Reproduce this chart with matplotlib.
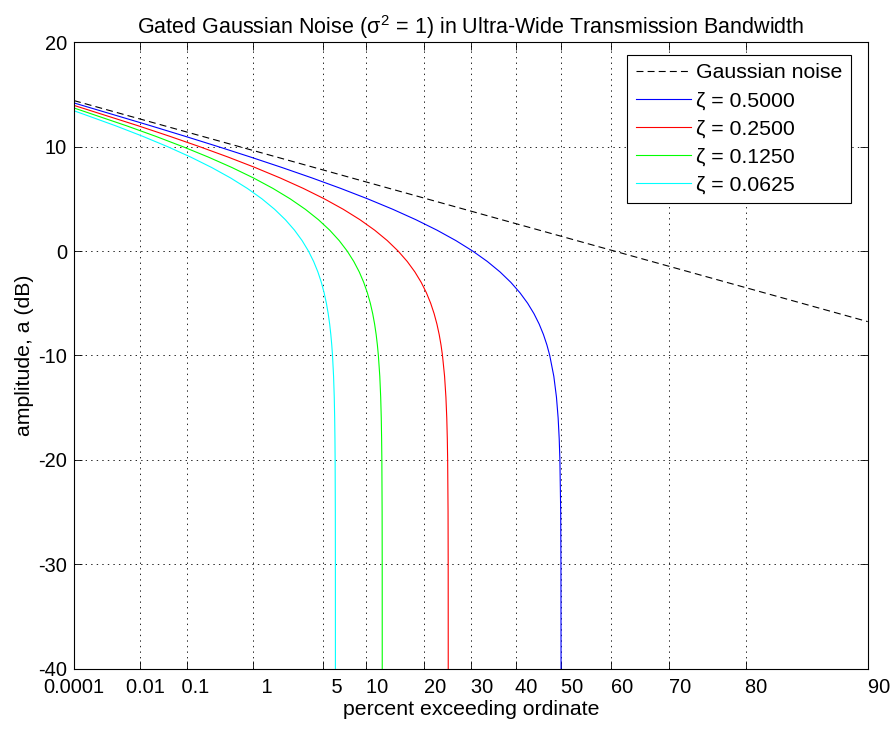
import numpy as np
import matplotlib
matplotlib.use('Agg')
import matplotlib.pyplot as plt

plt.rcParams['font.family'] = ['Liberation Sans', 'DejaVu Sans']
plt.rcParams['mathtext.fontset'] = 'custom'
plt.rcParams['mathtext.rm'] = 'Liberation Sans'
plt.rcParams['mathtext.it'] = 'Liberation Sans'
plt.rcParams['axes.unicode_minus'] = False
plt.rcParams['lines.scale_dashes'] = False

# amplitude levels (dB)
levels_db = [12, 11, 10, 9, 8, 7, 6, 5, 4, 3, 2, 1, 0, -1, -2, -3, -4, -5,
             -6, -7, -8, -9, -10, -12, -14, -16, -18, -20, -25, -30, -40]

# percent exceeding ordinate for each level, one list per duty cycle
pct_0500 = [0.018089, 0.092315, 0.33690, 0.94215, 2.1324, 4.0800, 6.8311,
            10.287, 14.240, 18.438, 22.637, 26.644, 30.327, 33.611, 36.472,
            38.917, 40.975, 42.688, 44.099, 45.253, 46.191, 46.950, 47.561,
            48.447, 49.015, 49.376, 49.605, 49.751, 49.921, 49.975, 49.9975]
pct_0250 = [0.0090443, 0.046158, 0.16845, 0.47108, 1.0662, 2.0400, 3.4155,
            5.1436, 7.1202, 9.2188, 11.318, 13.322, 15.163, 16.806, 18.236,
            19.459, 20.488, 21.344, 22.049, 22.626, 23.095, 23.475, 23.781,
            24.224, 24.507, 24.688, 24.803, 24.875, 24.961, 24.988, 24.999]
pct_0125 = [0.0045221, 0.023079, 0.084224, 0.23554, 0.53309, 1.0200, 1.7078,
            2.5718, 3.5601, 4.6094, 5.6592, 6.6610, 7.5816, 8.4028, 9.1180,
            9.7293, 10.244, 10.672, 11.025, 11.313, 11.548, 11.737, 11.890,
            12.112, 12.254, 12.344, 12.401, 12.438, 12.480, 12.494, 12.4994]
pct_0625 = [0.0022611, 0.011539, 0.042112, 0.11777, 0.26654, 0.50999, 0.85388,
            1.2859, 1.7801, 2.3047, 2.8296, 3.3305, 3.7908, 4.2014, 4.5590,
            4.8646, 5.1219, 5.3360, 5.5123, 5.6566, 5.7738, 5.8687, 5.9452,
            6.0559, 6.1268, 6.1720, 6.2007, 6.2188, 6.2401, 6.2469, 6.2497]

# value of each curve at the left edge (0.0001 %)
left_pct = 0.0001
left_db = {'0.5000': 14.19, '0.2500': 13.955, '0.1250': 13.706, '0.0625': 13.441}

# ungated Gaussian noise: straight line on Rayleigh paper
gauss_pct = [0.0001, 90]
gauss_db = [14.414, -6.763]

zetas = ['0.5000', '0.2500', '0.1250', '0.0625']
series = [pct_0500, pct_0250, pct_0125, pct_0625]
colors = ['#0000ff', '#ff0000', '#00ff00', '#00ffff']

xticks = [0.0001, 0.01, 0.1, 1, 5, 10, 20, 30, 40, 50, 60, 70, 80, 90]
xtick_labels = ['0.0001', '0.01', '0.1', '1', '5', '10', '20', '30', '40',
                '50', '60', '70', '80', '90']
yticks = [-40, -30, -20, -10, 0, 10, 20]


def rayleigh_fwd(p):
    p = np.clip(np.asarray(p, dtype=float), 1e-12, 99.9999999)
    return -np.log10(-np.log(p / 100.0))


def rayleigh_inv(u):
    return 100.0 * np.exp(-10.0 ** (-np.asarray(u, dtype=float)))


fig = plt.figure(figsize=(8.96, 7.3), dpi=100)
ax = fig.add_axes([74 / 896, 61.5 / 730, 793.7 / 896, 626.2 / 730])
ax.set_xscale('function', functions=(rayleigh_fwd, rayleigh_inv))

ax.plot(gauss_pct, gauss_db, color='k', lw=0.8, dashes=(5, 3),
        label='Gaussian noise')
for z, pct, c in zip(zetas, series, colors):
    ax.plot([left_pct] + pct, [left_db[z]] + levels_db, color=c, lw=0.8,
            label='\u03b6 = ' + z)

ax.set_xlim(0.0001, 90)
ax.set_ylim(-40, 20)
ax.set_xticks(xticks)
# MATLAB pads labels to a common width, right justified
ax.set_xticklabels([s.rjust(6) for s in xtick_labels])
ax.set_yticks(yticks)
ax.minorticks_off()

ax.grid(True, color='k', linestyle=(0, (1, 3)), linewidth=0.6)
ax.tick_params(direction='in', top=True, right=True, length=6, width=0.6,
               labelsize=14.4)
ax.tick_params(axis='x', pad=7)
ax.tick_params(axis='y', pad=5)
for sp in ax.spines.values():
    sp.set_linewidth(0.8)

ax.set_title(r'Gated Gaussian Noise ($\sigma^2$ = 1) in Ultra-Wide Transmission Bandwidth',
             fontsize=15.5, pad=6)
ax.set_xlabel('percent exceeding ordinate', fontsize=15.3, labelpad=2)
ax.set_ylabel('amplitude, a (dB)', fontsize=15.3, labelpad=3)

leg = ax.legend(loc='upper right', bbox_to_anchor=(1 - 16.7 / 793.7, 1 - 12.7 / 626.2),
                borderaxespad=0, fontsize=15.3, fancybox=False,
                framealpha=1, edgecolor='k', handlelength=2.6,
                labelspacing=0.42, borderpad=0.4, handletextpad=0.25)
leg.get_frame().set_linewidth(0.8)

fig.savefig('out.png', dpi=100)
